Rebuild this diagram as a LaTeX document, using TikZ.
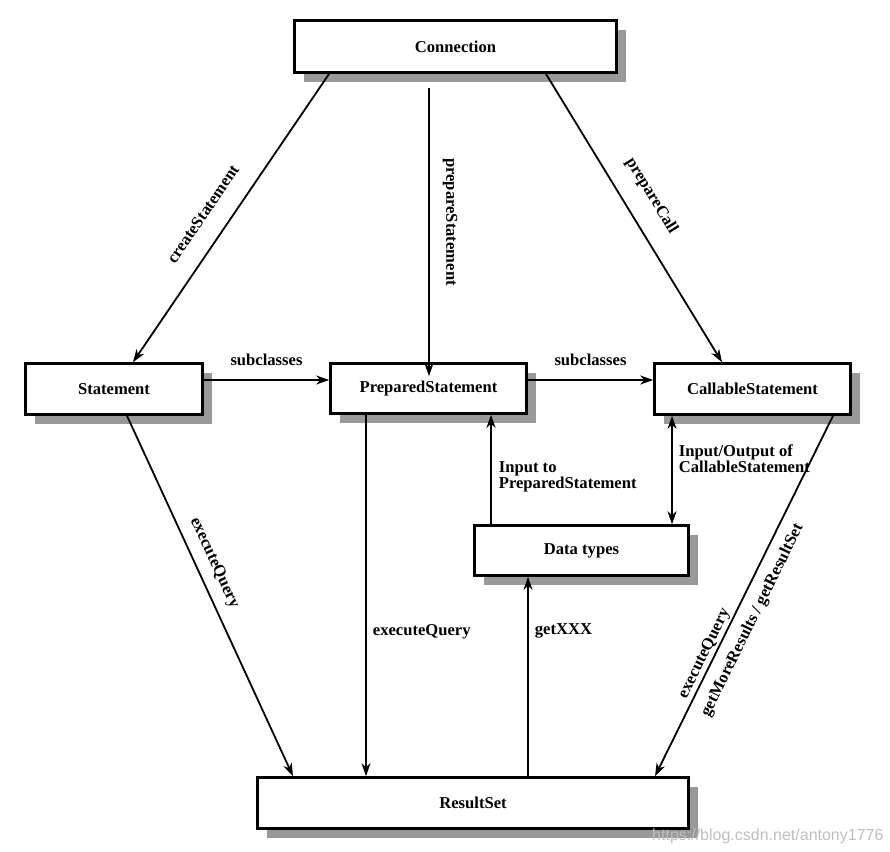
\documentclass[tikz,border=0pt]{standalone}
\usepackage{fontspec}
\setmainfont{Liberation Serif}
\newfontfamily\wmfont{Liberation Sans}
\usetikzlibrary{arrows.meta,shadows}
\definecolor{shadowgray}{RGB}{153,153,153}
\definecolor{wmgray}{RGB}{190,190,190}
\begin{document}
\begin{tikzpicture}[x=1pt,y=-1pt,
  box/.style={draw=black, line width=2.6pt, fill=white, inner sep=0pt,
    font=\fontsize{16.6}{17}\selectfont\bfseries,
    drop shadow={shadow xshift=9pt, shadow yshift=-9pt, fill=shadowgray, opacity=1}},
  conn/.style={line width=1.8pt, -{Stealth[length=13pt,width=9pt,inset=4pt]}},
  lbl/.style={font=\fontsize{16.6}{16}\selectfont\bfseries, inner sep=0pt, text=black},
]
\useasboundingbox (0,0) rectangle (890,851);

% boxes
\node[box, minimum width=322pt, minimum height=52pt] (Connection) at (455.5,46.7) {Connection};
\node[box, minimum width=177pt, minimum height=51pt] (Statement) at (114,389) {Statement};
\node[box, minimum width=196pt, minimum height=50pt] (Prepared) at (428.5,388.5) {PreparedStatement};
\node[box, minimum width=196pt, minimum height=51pt] (Callable) at (752.5,389) {CallableStatement};
\node[box, minimum width=214pt, minimum height=50pt] (Data) at (581.5,550.5) {Data types};
\node[box, minimum width=431pt, minimum height=51pt] (Result) at (473,803) {ResultSet};

% Connection -> three statements
\draw[conn] ([xshift=-126.5pt]Connection.south) --
  node[lbl, sloped, pos=0.536, anchor=south, inner ysep=19pt] {createStatement}
  ([xshift=19pt]Statement.north);
\draw[conn] ([xshift=-26.5pt,yshift=-14pt]Connection.south) --
  node[lbl, pos=0.465, rotate=-90, anchor=south, inner ysep=13pt] {prepareStatement}
  ([xshift=-26.5pt,yshift=-14pt]Connection.south |- Prepared.north);
\draw[conn] ([xshift=90.5pt]Connection.south) --
  node[lbl, sloped, pos=0.471, anchor=south, inner ysep=18pt] {prepareCall}
  ([xshift=-30.5pt]Callable.north);

% subclasses
\draw[conn] ([yshift=9pt]Statement.east) --
  node[lbl, midway, anchor=south, inner ysep=13pt] {subclasses}
  ([yshift=9pt]Statement.east -| Prepared.west);
\draw[conn] ([yshift=8.5pt]Prepared.east) --
  node[lbl, midway, anchor=south, inner ysep=13pt] {subclasses}
  ([yshift=8.5pt]Prepared.east -| Callable.west);

% to ResultSet
\draw[conn] ([xshift=13pt]Statement.south) --
  node[lbl, sloped, pos=0.429, anchor=south, inner ysep=9.5pt] {executeQuery}
  ([xshift=-180pt]Result.north);
\draw[conn] ([xshift=-62.5pt]Prepared.south) --
  node[lbl, pos=0.6, anchor=west, inner xsep=6pt] {executeQuery}
  ([xshift=-62.5pt]Prepared.south |- Result.north);
\draw[conn] ([xshift=80.5pt]Callable.south) --
  node[lbl, sloped, pos=0.672, anchor=south, inner ysep=1.5pt] {executeQuery}
  node[lbl, sloped, pos=0.545, anchor=north, inner ysep=10pt] {getMoreResults / getResultSet}
  ([xshift=182pt]Result.north);

% Data types
\draw[conn] ([xshift=55pt]Result.north) --
  node[lbl, pos=0.73, anchor=west, inner xsep=6pt] {getXXX}
  ([xshift=55pt]Result.north |- Data.south);
\draw[conn] ([xshift=-90.5pt]Data.north) --
  node[lbl, pos=0.43, anchor=west, inner xsep=7pt, align=left] {Input to\\PreparedStatement}
  ([xshift=-90.5pt]Data.north |- Prepared.south);
\draw[line width=1.8pt, {Stealth[length=13pt,width=9pt,inset=4pt]}-{Stealth[length=13pt,width=9pt,inset=4pt]}]
  ([xshift=-80.5pt]Callable.south) --
  node[lbl, pos=0.40, anchor=west, inner xsep=6pt, align=left] {Input/Output of\\CallableStatement}
  ([xshift=-80.5pt]Callable.south |- Data.north);

% watermark
\node[font=\fontsize{16}{18}\selectfont\wmfont, text=wmgray, anchor=base west, inner sep=0pt] (wm) at (652,840) {https://blog.csdn.net/antony1776};
\end{tikzpicture}
\end{document}
